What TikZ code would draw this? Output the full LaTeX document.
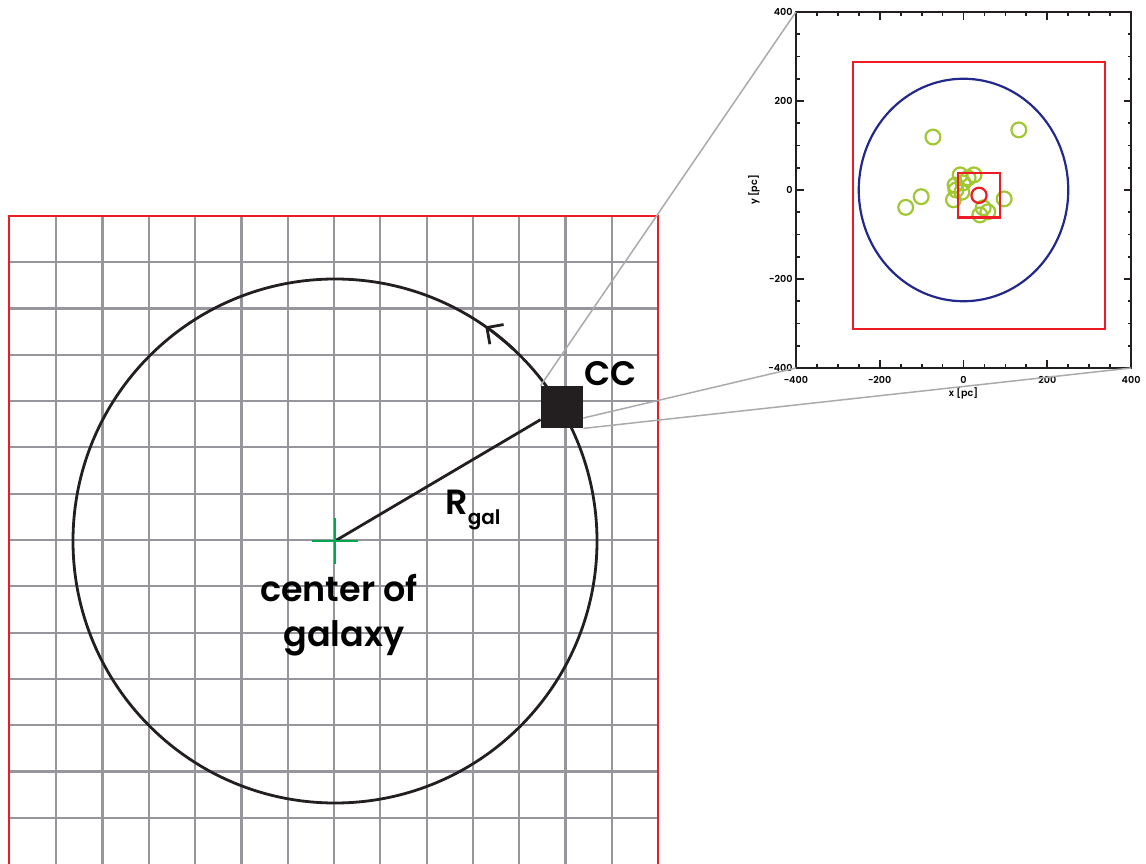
\documentclass[tikz,border=0pt]{standalone}
\usepackage{fontspec}
\setmainfont{Poppins}[BoldFont={Poppins SemiBold}]
\usetikzlibrary{arrows.meta}

\definecolor{framered}{RGB}{237,28,36}
\definecolor{gridgray}{RGB}{150,150,156}
\definecolor{crossgreen}{RGB}{0,166,81}
\definecolor{orbitblue}{RGB}{35,40,140}
\definecolor{clustergreen}{RGB}{160,200,50}
\definecolor{zoomgray}{RGB}{170,170,170}
\definecolor{ink}{RGB}{35,31,32}

\begin{document}
\begin{tikzpicture}[x=0.5pt,y=0.5pt,line join=miter]
  \tikzset{gridline/.style={gridgray,line width=1.1pt},
    zoomline/.style={zoomgray,line width=0.75pt},
    orbit/.style={ink,line width=1.4pt},
    redbox/.style={framered,line width=1.1pt},
    ticklab/.style={font=\bfseries\fontsize{4.8}{5}\selectfont,inner sep=0pt},
    biglab/.style={font=\bfseries\fontsize{17.5}{22}\selectfont,inner sep=0pt}}

  \path[use as bounding box] (0,0) rectangle (1146,863);

  % simulation grid
  \foreach \i in {-6,...,6}
    \draw[gridline] (334+46.3*\i,-2) -- (334+46.3*\i,647);
  \foreach \j in {-6,...,6}
    \draw[gridline] (9,323-46.3*\j) -- (658,323-46.3*\j);
  \draw[framered,line width=1.4pt] (9,-5) -- (9,647) -- (658,647) -- (658,-5);

  % orbit of the cluster
  \coordinate (galcenter) at (335,322);
  \draw[orbit] (galcenter) circle[radius=262];
  \draw[orbit,-{Straight Barb[length=6pt,width=12pt]}]
    (galcenter) ++(47:262) arc[start angle=47,end angle=55,radius=262];

  \node[fill=ink,minimum size=21pt,inner sep=0pt] (cc) at (562,456) {};
  \draw[orbit] (galcenter) -- (cc);
  \draw[crossgreen,line width=1.1pt]
    (galcenter) ++(-23,0) -- ++(46,0)
    (galcenter) ++(0,-23) -- ++(0,46);

  \node[biglab,anchor=west,font=\bfseries\fontsize{17}{20}\selectfont] (cclab) at (584,489.5) {CC};
  \node[biglab,anchor=base west] (rgal) at (445,348)
    {R\raisebox{-5pt}{\fontsize{10}{12}\selectfont gal}};
  \node[biglab,anchor=base] (centerlab) at (339,261.3) {center of};
  \node[biglab,anchor=base] (galaxylab) at (344,217) {galaxy};

  % zoomed view of the cluster
  \begin{scope}[shift={(963.5,673)},x=0.2095pt,y=0.2225pt]
    \draw[redbox] (-263,-312) rectangle (337,288);
    \draw[orbitblue,line width=1.1pt] (0,0) circle[radius=250];
    \foreach \gx/\gy in {-73/119,132/135,-138/-39,-101/-15,97/-20,25/34,-8/34,
        -20/11,-24/-22,-1/16,11/27,-4/-5,-18/0,47/-40,39/-56,58/-49}
      \draw[clustergreen,line width=1.1pt] (\gx,\gy) circle[radius=3.7pt];
    \draw[redbox] (-13,-62) rectangle (87,38);
    \draw[redbox] (37,-12) circle[radius=3.8pt];

    \draw[ink,line width=1.1pt] (-400,-400) rectangle (400,400);
    \foreach \t/\len in {-350/1.8,-300/1.8,-250/1.8,-200/3.8,-150/1.8,-100/1.8,-50/1.8,0/3.8,
        50/1.8,100/1.8,150/1.8,200/3.8,250/1.8,300/1.8,350/1.8} {
      \draw[ink,line width=0.9pt] (\t,-400) -- ++(0pt,\len pt);
      \draw[ink,line width=0.9pt] (\t,400) -- ++(0pt,-\len pt);
      \draw[ink,line width=0.9pt] (-400,\t) -- ++(\len pt,0pt);
      \draw[ink,line width=0.9pt] (400,\t) -- ++(-\len pt,0pt);
    }
    \foreach \t/\lab in {-400/−400,-200/−200,0/0,200/200,400/400} {
      \node[ticklab,anchor=north] at ([yshift=-4pt]\t,-400) {\lab};
      \node[ticklab,anchor=east] at ([xshift=-1.5pt]-400,\t) {\lab};
    }
    \node[ticklab] (xtitle) at (0,-458) {x [pc]};
    \node[ticklab,rotate=90] (ytitle) at (-500,0) {y [pc]};

    \coordinate (plotNW) at (-400,400);
    \coordinate (plotSW) at (-400,-400);
    \coordinate (plotSE) at (400,-400);
  \end{scope}

  \draw[zoomline] (cc.north west) -- (plotNW);
  \draw[zoomline] ([yshift=-5.5pt]cc.east) -- (plotSW);
  \draw[zoomline] (cc.south east) -- (plotSE);
  \node[fill=ink,minimum size=21pt,inner sep=0pt] at (cc) {};
\end{tikzpicture}
\end{document}
